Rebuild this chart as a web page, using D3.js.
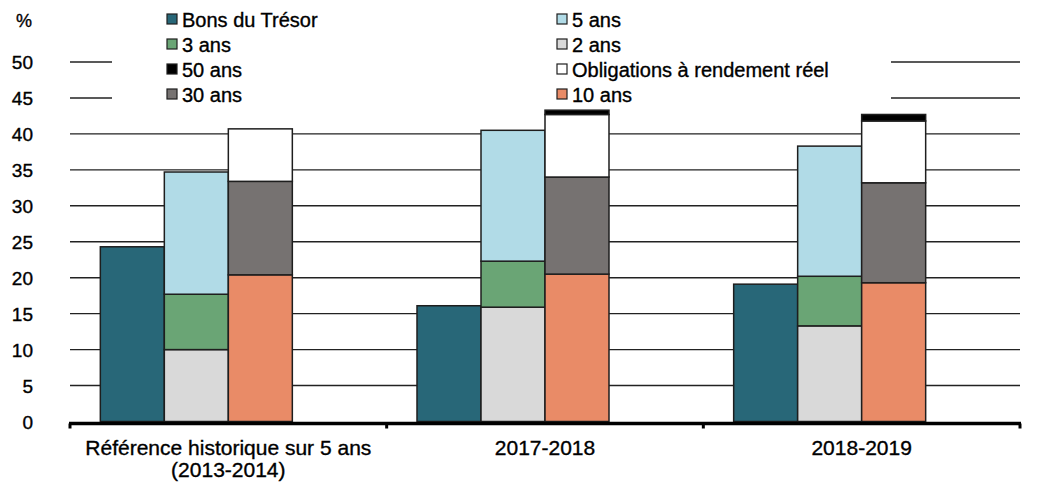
<!DOCTYPE html>
<html>
<head>
<meta charset="utf-8">
<script src="https://cdn.jsdelivr.net/npm/d3@7"></script>
<style>
  html, body { margin: 0; padding: 0; background: #fff; }
  svg { display: block; font-family: "Liberation Sans", Arial, sans-serif; }
  text { stroke: #000; stroke-width: 0.35px; }
</style>
</head>
<body>
<svg id="chart" width="1046" height="491"></svg>
<script>
// ---- data ----
const categories = ["Référence historique sur 5 ans\n(2013-2014)", "2017-2018", "2018-2019"];
const bonsDuTresor = [24.3, 16.1, 19.1];
const ans2  = [10.0, 15.9, 13.3];
const ans3  = [7.7, 6.4, 6.9];
const ans5  = [17.0, 18.2, 18.1];
const ans10 = [20.4, 20.5, 19.3];
const ans30 = [13.0, 13.5, 13.9];
const rendementReel = [7.3, 8.7, 8.6];
const ans50 = [0.0, 0.6, 0.9];
const yTicks = [0, 5, 10, 15, 20, 25, 30, 35, 40, 45, 50];

const seriesNames = {
  bons: "Bons du Trésor", a2: "2 ans", a3: "3 ans", a5: "5 ans",
  a10: "10 ans", a30: "30 ans", rrb: "Obligations à rendement réel", a50: "50 ans"
};
const colors = {
  bons: "#286778", a2: "#d9d9d9", a3: "#6aa575", a5: "#b1dbe7",
  a10: "#e98b67", a30: "#767271", rrb: "#ffffff", a50: "#000000"
};

// columns within each group
const columns = [
  { id: "c1", keys: ["bons"] },
  { id: "c2", keys: ["a2", "a3", "a5"] },
  { id: "c3", keys: ["a10", "a30", "rrb", "a50"] }
];

const rows = categories.map((c, i) => ({
  cat: c, bons: bonsDuTresor[i], a2: ans2[i], a3: ans3[i], a5: ans5[i],
  a10: ans10[i], a30: ans30[i], rrb: rendementReel[i], a50: ans50[i]
}));

// ---- layout ----
const svg = d3.select("#chart");
const x0 = d3.scaleBand().domain(categories).range([70, 1020]).paddingInner(0).paddingOuter(0);
const x1 = d3.scaleBand().domain(["c1", "c2", "c3", "c4"]).range([0, x0.bandwidth()])
  .paddingInner(0).paddingOuter(0.474);
const y = d3.scaleLinear().domain([0, 50]).range([421.5, 62]);

// gridlines
svg.append("g").selectAll("line").data(yTicks.filter(d => d > 0)).join("line")
  .attr("x1", 70).attr("x2", 1020)
  .attr("y1", d => y(d)).attr("y2", d => y(d))
  .attr("stroke", "#222").attr("stroke-width", 1.4);

// y tick labels
svg.append("g").selectAll("text").data(yTicks).join("text")
  .attr("x", 33).attr("y", d => y(d) + 7)
  .attr("text-anchor", "end").attr("font-size", 19).attr("fill", "#000")
  .text(d => d);

svg.append("text").attr("x", 24).attr("y", 27).attr("text-anchor", "middle")
  .attr("font-size", 18).text("%");

// legend background (covers gridlines)
svg.append("rect").attr("x", 112).attr("y", 0).attr("width", 779).attr("height", 110)
  .attr("fill", "#fff").attr("stroke", "none");

// bars
const barsG = svg.append("g");
columns.forEach(col => {
  const stacked = d3.stack().keys(col.keys)(rows);
  stacked.forEach(layer => {
    barsG.append("g").selectAll("rect").data(layer).join("rect")
      .attr("x", d => x0(d.data.cat) + x1(col.id))
      .attr("width", x1.bandwidth())
      .attr("y", d => y(d[1]))
      .attr("height", d => Math.max(0, y(d[0]) - y(d[1])))
      .attr("fill", colors[layer.key])
      .attr("stroke", "#1e1e1e")
      .attr("stroke-width", 1.5)
      .attr("display", d => (d[1] - d[0]) > 0 ? null : "none");
  });
});

// x axis
const axisY = 423.5;
svg.append("line").attr("x1", 69).attr("x2", 1021).attr("y1", axisY).attr("y2", axisY)
  .attr("stroke", "#000").attr("stroke-width", 3.5);
const tickXs = categories.map(c => x0(c)).concat([x0(categories[categories.length - 1]) + x0.bandwidth()]);
svg.append("g").selectAll("line").data(tickXs).join("line")
  .attr("x1", d => d).attr("x2", d => d)
  .attr("y1", axisY).attr("y2", axisY + 5)
  .attr("stroke", "#000").attr("stroke-width", 3);

// x labels
const xl = svg.append("g").selectAll("text").data(categories).join("text")
  .attr("x", d => x0(d) + x0.bandwidth() / 2)
  .attr("y", 455)
  .attr("text-anchor", "middle").attr("font-size", 21).attr("fill", "#000");
xl.each(function(d) {
  const lines = d.split("\n");
  d3.select(this).selectAll("tspan").data(lines).join("tspan")
    .attr("x", x0(d) + x0.bandwidth() / 2)
    .attr("dy", (l, i) => i === 0 ? 0 : 22)
    .text(l => l);
});

// legend
const legendItems = [
  ["bons", 0, 0], ["a5", 1, 0],
  ["a3", 0, 1], ["a2", 1, 1],
  ["a50", 0, 2], ["rrb", 1, 2],
  ["a30", 0, 3], ["a10", 1, 3]
];
const legCols = [167, 557];
const legRowBase = [26.5, 51.5, 76.5, 101.5];
const lg = svg.append("g").selectAll("g").data(legendItems).join("g");
lg.append("rect")
  .attr("x", d => legCols[d[1]]).attr("y", d => legRowBase[d[2]] - 12.5)
  .attr("width", 10).attr("height", 10)
  .attr("fill", d => colors[d[0]]).attr("stroke", "#1e1e1e").attr("stroke-width", 1.2);
lg.append("text")
  .attr("x", d => legCols[d[1]] + 15).attr("y", d => legRowBase[d[2]])
  .attr("font-size", 20).attr("fill", "#000")
  .text(d => seriesNames[d[0]]);
</script>
</body>
</html>
